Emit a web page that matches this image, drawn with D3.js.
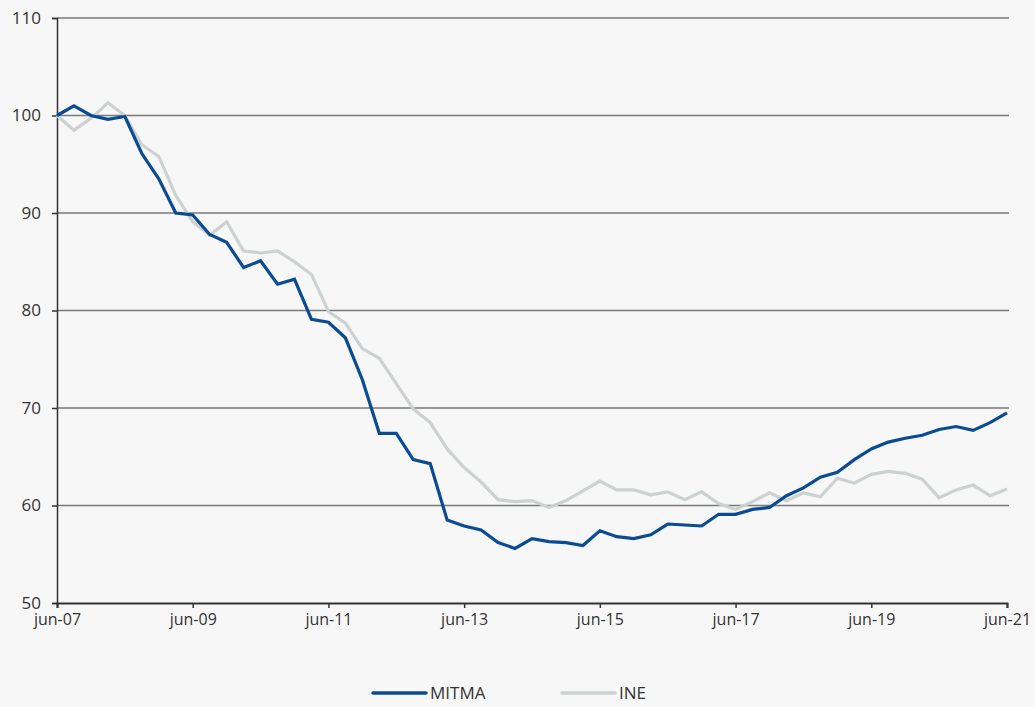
<!DOCTYPE html>
<html>
<head>
<meta charset="utf-8">
<script src="https://cdn.jsdelivr.net/npm/d3@7"></script>
<style>
  html, body { margin: 0; padding: 0; background: #f7f7f7; }
  svg { display: block; }
  text { font-family: "Open Sans", "Noto Sans", sans-serif; fill: #333; }
</style>
</head>
<body>
<svg id="chart" width="1035" height="707"></svg>
<script>
// Quarterly index, jun-07 = 100
const startYear = 2007;
const quarters = d3.range(57); // jun-07 .. jun-21, one step per quarter

const mitma = [
  100.0, 101.0, 100.0, 99.6, 99.9, 96.1, 93.5, 90.0, 89.8, 87.8,
  87.0, 84.4, 85.1, 82.7, 83.2, 79.1, 78.8, 77.2, 72.9, 67.4,
  67.4, 64.7, 64.3, 58.5, 57.9, 57.5, 56.2, 55.6, 56.6, 56.3,
  56.2, 55.9, 57.4, 56.8, 56.6, 57.0, 58.1, 58.0, 57.9, 59.1,
  59.1, 59.6, 59.8, 61.0, 61.8, 62.9, 63.4, 64.7, 65.8, 66.5,
  66.9, 67.2, 67.8, 68.1, 67.7, 68.5, 69.5
];

const ine = [
  100.0, 98.5, 99.7, 101.3, 100.0, 97.0, 95.8, 91.8, 89.1, 87.7,
  89.1, 86.1, 85.9, 86.1, 85.0, 83.7, 79.9, 78.7, 76.1, 75.1,
  72.5, 69.9, 68.5, 65.8, 63.9, 62.4, 60.6, 60.4, 60.5, 59.8,
  60.5, 61.5, 62.5, 61.6, 61.6, 61.1, 61.4, 60.6, 61.4, 60.2,
  59.6, 60.4, 61.3, 60.5, 61.3, 60.9, 62.8, 62.3, 63.2, 63.5,
  63.3, 62.7, 60.8, 61.6, 62.1, 61.0, 61.7
];

const yTicks = [50, 60, 70, 80, 90, 100, 110];
const xTickLabels = ["jun-07", "jun-09", "jun-11", "jun-13", "jun-15", "jun-17", "jun-19", "jun-21"];
const seriesNames = ["MITMA", "INE"];
const seriesColors = ["#0a4b92", "#cdd1d1"];

const svg = d3.select("#chart");
const margin = { left: 57, right: 28, top: 18, bottom: 104 };
const W = 1035, H = 707;

const x = d3.scaleLinear().domain([0, 56]).range([margin.left, W - margin.right]);
const y = d3.scaleLinear().domain([50, 110]).range([H - margin.bottom, margin.top]);

// horizontal gridlines
svg.append("g")
  .selectAll("line")
  .data(yTicks.filter(d => d > 50))
  .join("line")
  .attr("x1", x(0)).attr("x2", x(56) + 2)
  .attr("y1", d => y(d)).attr("y2", d => y(d))
  .attr("stroke", "#7a7a7a")
  .attr("stroke-width", 1.5);

// y axis
const yAxis = svg.append("g")
  .attr("transform", `translate(${x(0)},0)`)
  .call(d3.axisLeft(y).tickValues(yTicks).tickSize(5).tickPadding(11).tickFormat(d3.format("d")));
yAxis.select(".domain").attr("stroke", "#333").attr("stroke-width", 1.5);
yAxis.selectAll(".tick line").attr("stroke", "#333").attr("stroke-width", 1.5);
yAxis.selectAll("text").attr("font-size", 17).attr("fill", "#333")
  .style("font-family", "'Open Sans', 'Noto Sans', sans-serif");

// x axis: tick every 8 quarters (two years)
const xTickVals = d3.range(0, 57, 8);
const xAxis = svg.append("g")
  .attr("transform", `translate(0,${y(50)})`)
  .call(d3.axisBottom(x).tickValues(xTickVals).tickSize(5).tickPadding(6)
    .tickFormat((d, i) => xTickLabels[i]));
xAxis.select(".domain").attr("stroke", "#333").attr("stroke-width", 2);
xAxis.selectAll(".tick line").attr("stroke", "#333").attr("stroke-width", 1.5);
xAxis.selectAll("text").attr("font-size", 16).attr("fill", "#333")
  .style("font-family", "'Open Sans', 'Noto Sans', sans-serif");

// lines (INE first so MITMA sits on top)
const line = d3.line().x((d, i) => x(quarters[i])).y(d => y(d));
[[ine, seriesColors[1]], [mitma, seriesColors[0]]].forEach(([vals, col]) => {
  svg.append("path")
    .datum(vals)
    .attr("d", line)
    .attr("fill", "none")
    .attr("stroke", col)
    .attr("stroke-width", 3.2)
    .attr("stroke-linejoin", "miter");
});

// legend
const legend = svg.append("g").attr("transform", "translate(0,693)");
const legendX = [373, 562];
seriesNames.forEach((name, i) => {
  legend.append("line")
    .attr("x1", legendX[i]).attr("x2", legendX[i] + 53)
    .attr("y1", 0).attr("y2", 0)
    .attr("stroke", seriesColors[i]).attr("stroke-width", 3.5)
    .attr("stroke-linecap", "round");
  legend.append("text")
    .attr("x", legendX[i] + 57).attr("y", 0)
    .attr("dy", "0.36em")
    .attr("font-size", 17)
    .text(name);
});
</script>
</body>
</html>
